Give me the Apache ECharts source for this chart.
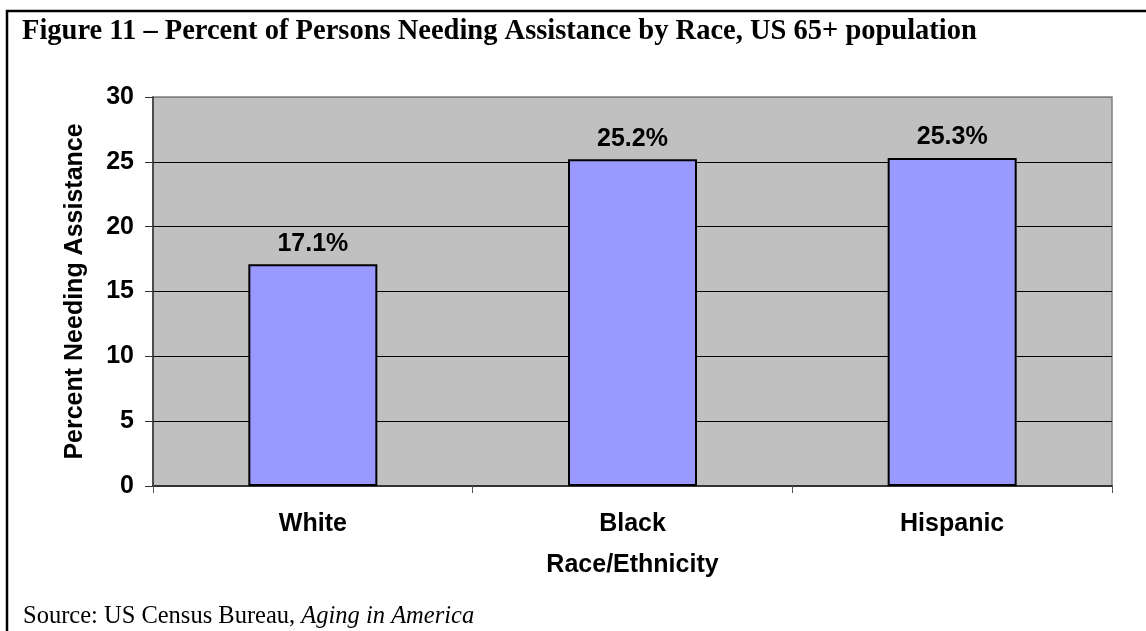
<!DOCTYPE html>
<html>
<head>
<meta charset="utf-8">
<script src="https://cdn.jsdelivr.net/npm/echarts@6/dist/echarts.min.js"></script>
<style>
  html, body { margin: 0; padding: 0; background: #fff; }
  #chart { width: 1146px; height: 631px; }
</style>
</head>
<body>
<div id="chart"></div>
<script>
// Race / ethnicity groups and share of 65+ persons needing assistance (%)
const categories = ['White', 'Black', 'Hispanic'];
const percentNeeding = [17.1, 25.2, 25.3];

const titleText = 'Figure 11 \u2013 Percent of Persons Needing Assistance by Race, US 65+ population';
const xAxisName = 'Race/Ethnicity';
const yAxisName = 'Percent Needing Assistance';

const sans = '"Liberation Sans", Arial, sans-serif';
const serif = '"Liberation Serif", "Times New Roman", serif';
const labelSize = 25;

const chart = echarts.init(document.getElementById('chart'), null, { renderer: 'canvas' });

chart.setOption({
  backgroundColor: '#ffffff',
  animation: false,
  graphic: [
    {
      type: 'polyline',
      shape: { points: [[7, 640], [7, 11], [1160, 11]] },
      style: { stroke: '#000', lineWidth: 2.5, fill: null }
    },
    {
      type: 'text',
      left: 22,
      top: 17,
      style: {
        text: titleText,
        font: 'bold 28.5px ' + serif,
        fill: '#000'
      }
    },
    {
      type: 'text',
      left: 23,
      top: 604,
      style: {
        rich: {
          n: { font: '24.5px ' + serif, fill: '#000' },
          i: { font: 'italic 24.5px ' + serif, fill: '#000' }
        },
        text: '{n|Source: US Census Bureau, }{i|Aging in America}'
      }
    }
  ],
  grid: {
    left: 153,
    right: 34,
    top: 97,
    bottom: 145,
    show: true,
    backgroundColor: '#C0C0C0',
    borderColor: '#808080',
    borderWidth: 1.5
  },
  xAxis: {
    type: 'category',
    data: categories,
    boundaryGap: true,
    axisLine: { show: true, lineStyle: { color: '#333', width: 2 } },
    axisTick: { show: true, interval: 0, length: 7, lineStyle: { color: '#555' } },
    axisLabel: {
      interval: 0,
      margin: 26,
      color: '#000',
      fontFamily: sans,
      fontWeight: 'bold',
      fontSize: labelSize
    },
    name: xAxisName,
    nameLocation: 'middle',
    nameGap: 67,
    nameTextStyle: {
      color: '#000',
      fontFamily: sans,
      fontWeight: 'bold',
      fontSize: labelSize
    }
  },
  yAxis: {
    type: 'value',
    min: 0,
    max: 30,
    interval: 5,
    axisLine: { show: true, lineStyle: { color: '#333', width: 1.5 } },
    axisTick: { show: true, length: 8, lineStyle: { color: '#333' } },
    axisLabel: {
      margin: 19,
      color: '#000',
      fontFamily: sans,
      fontWeight: 'bold',
      fontSize: labelSize
    },
    splitLine: {
      show: true,
      lineStyle: {
        color: ['#000', '#000', '#000', '#000', '#000', '#000', '#808080'],
        width: 1
      }
    },
    name: yAxisName,
    nameLocation: 'middle',
    nameGap: 65,
    nameRotate: 90,
    nameTextStyle: {
      color: '#000',
      fontFamily: sans,
      fontWeight: 'bold',
      fontSize: labelSize
    }
  },
  series: [
    {
      type: 'bar',
      data: percentNeeding,
      barWidth: 129,
      itemStyle: {
        color: '#9999FF',
        borderColor: '#000',
        borderWidth: 2
      },
      label: {
        show: true,
        position: 'top',
        distance: 8,
        formatter: '{c}%',
        color: '#000',
        fontFamily: sans,
        fontWeight: 'bold',
        fontSize: labelSize
      }
    }
  ]
});
</script>
</body>
</html>
